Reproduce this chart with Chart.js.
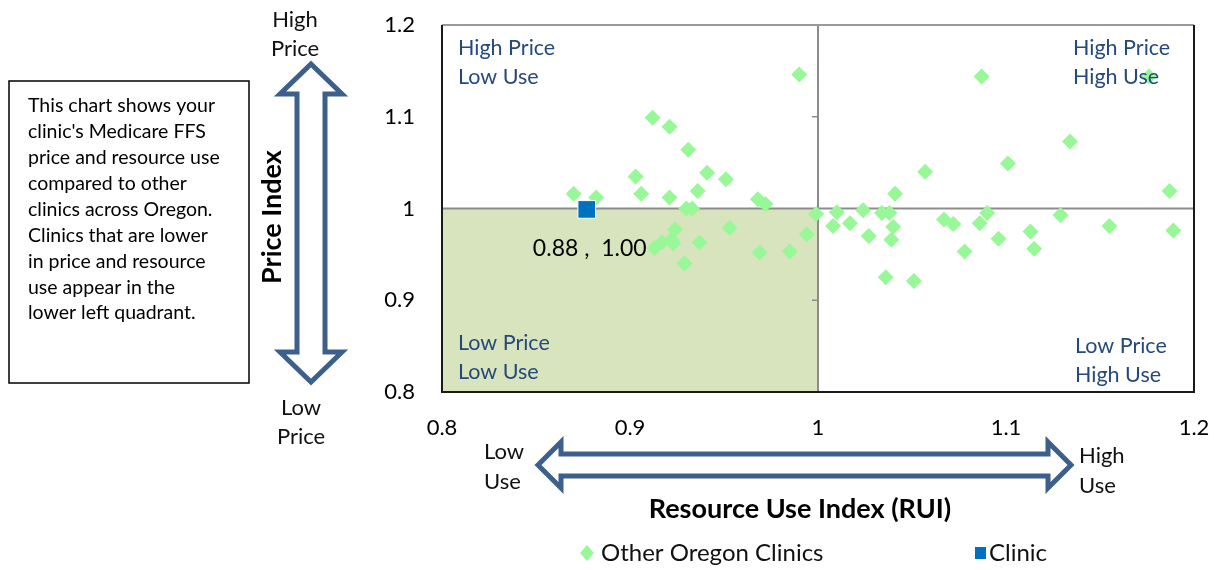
<!DOCTYPE html>
<html>
<head>
<meta charset="utf-8">
<script src="https://cdn.jsdelivr.net/npm/chart.js@4.4.1/dist/chart.umd.min.js"></script>
<style>
  html, body { margin: 0; padding: 0; background: #ffffff; }
  #wrap { position: relative; width: 1217px; height: 570px; }
  canvas { display: block; }
</style>
</head>
<body>
<div id="wrap"><canvas id="c" width="1217" height="570"></canvas></div>
<script>
// ---- Data ----
const seriesNames = ['Other Oregon Clinics', 'Clinic'];
const othersRUI = [0.990, 0.912, 0.921, 0.931, 0.903, 0.941, 0.951, 0.870, 0.882, 0.906,
  0.921, 0.936, 0.968, 0.972, 0.930, 0.933, 0.999, 0.924, 0.953, 0.994,
  0.922, 0.923, 0.917, 0.913, 0.937, 0.969, 0.985, 0.929,
  1.087, 1.176, 1.134, 1.101, 1.057, 1.041, 1.187, 1.010, 1.024, 1.034,
  1.038, 1.008, 1.017, 1.040, 1.027, 1.039, 1.067, 1.072, 1.086, 1.090,
  1.078, 1.096, 1.113, 1.115, 1.129, 1.155, 1.189, 1.036, 1.051];
const othersPrice = [1.146, 1.099, 1.089, 1.064, 1.035, 1.039, 1.032, 1.016, 1.012, 1.016,
  1.012, 1.019, 1.010, 1.005, 1.000, 1.000, 0.994, 0.977, 0.979, 0.972,
  0.966, 0.962, 0.963, 0.957, 0.963, 0.952, 0.953, 0.940,
  1.144, 1.144, 1.073, 1.049, 1.040, 1.016, 1.019, 0.996, 0.998, 0.995,
  0.995, 0.981, 0.984, 0.980, 0.970, 0.966, 0.988, 0.983, 0.984, 0.995,
  0.953, 0.967, 0.975, 0.956, 0.993, 0.981, 0.976, 0.925, 0.921];
const clinicRUI = [0.877];
const clinicPrice = [0.999];
const clinicLabel = '0.88 ,  1.00';
const xTickLabels = ['0.8', '0.9', '1', '1.1', '1.2'];
const yTickLabels = ['0.8', '0.9', '1', '1.1', '1.2'];
const quadrantLabels = [
  ['High Price', 'Low Use'],
  ['High Price', 'High Use'],
  ['Low Price', 'Low Use'],
  ['Low Price', 'High Use']
];
const noteLines = ["This chart shows your", "clinic's Medicare FFS", "price and resource use",
  "compared to other", "clinics across Oregon.", "Clinics that are lower",
  "in price and resource", "use appear in the", "lower left quadrant."];
const xTitle = 'Resource Use Index (RUI)';
const yTitle = 'Price Index';
const xEndLabels = [['Low', 'Use'], ['High', 'Use']];
const yEndLabels = [['High', 'Price'], ['Low', 'Price']];

// ---- Styles ----
const FONT = 'Lato, "Open Sans", sans-serif';
const GREEN = '#98f898';
const BLUE = '#0070c0';
const NAVY = '#24497a';
const ARROW = '#3d5f8c';
const SHADE = '#d7e4bd';

function toPts(xs, ys) { return xs.map((x, i) => ({ x: x, y: ys[i] })); }

function hollowArrowV(ctx, cx, yTop, yBot, headHalf, headLen, shaftHalf) {
  ctx.beginPath();
  ctx.moveTo(cx, yTop);
  ctx.lineTo(cx + headHalf, yTop + headLen);
  ctx.lineTo(cx + shaftHalf, yTop + headLen);
  ctx.lineTo(cx + shaftHalf, yBot - headLen);
  ctx.lineTo(cx + headHalf, yBot - headLen);
  ctx.lineTo(cx, yBot);
  ctx.lineTo(cx - headHalf, yBot - headLen);
  ctx.lineTo(cx - shaftHalf, yBot - headLen);
  ctx.lineTo(cx - shaftHalf, yTop + headLen);
  ctx.lineTo(cx - headHalf, yTop + headLen);
  ctx.closePath();
  ctx.fillStyle = '#ffffff';
  ctx.fill();
  ctx.strokeStyle = ARROW;
  ctx.lineWidth = 5;
  ctx.lineJoin = 'miter';
  ctx.stroke();
}
function hollowArrowH(ctx, cy, xL, xR, headHalf, headLen, shaftHalf) {
  ctx.beginPath();
  ctx.moveTo(xL, cy);
  ctx.lineTo(xL + headLen, cy - headHalf);
  ctx.lineTo(xL + headLen, cy - shaftHalf);
  ctx.lineTo(xR - headLen, cy - shaftHalf);
  ctx.lineTo(xR - headLen, cy - headHalf);
  ctx.lineTo(xR, cy);
  ctx.lineTo(xR - headLen, cy + headHalf);
  ctx.lineTo(xR - headLen, cy + shaftHalf);
  ctx.lineTo(xL + headLen, cy + shaftHalf);
  ctx.lineTo(xL + headLen, cy + headHalf);
  ctx.closePath();
  ctx.fillStyle = '#ffffff';
  ctx.fill();
  ctx.strokeStyle = ARROW;
  ctx.lineWidth = 5;
  ctx.lineJoin = 'miter';
  ctx.stroke();
}

const decor = {
  id: 'decor',
  beforeDatasetsDraw(chart) {
    const { ctx, chartArea: a, scales: { x, y } } = chart;
    const x1 = x.getPixelForValue(1.0);
    const y1 = y.getPixelForValue(1.0);
    ctx.save();
    ctx.fillStyle = SHADE;
    ctx.fillRect(a.left, y1, x1 - a.left, a.bottom - y1);
    ctx.strokeStyle = '#8c8c8c';
    ctx.lineWidth = 2;
    ctx.beginPath();
    ctx.moveTo(a.left, y1); ctx.lineTo(a.right, y1);
    ctx.moveTo(x1, a.top); ctx.lineTo(x1, a.bottom);
    ctx.stroke();
    ctx.lineWidth = 1.5;
    ctx.beginPath();
    [0.9, 1.1].forEach(v => {
      const py = y.getPixelForValue(v);
      ctx.moveTo(x1 - 6, py); ctx.lineTo(x1, py);
    });
    ctx.stroke();
    ctx.strokeStyle = '#9a9a9a';
    ctx.lineWidth = 2;
    ctx.beginPath();
    ctx.moveTo(a.left, a.top); ctx.lineTo(a.right, a.top);
    ctx.stroke();
    ctx.strokeStyle = '#1a1a1a';
    ctx.beginPath();
    ctx.moveTo(a.left, a.top); ctx.lineTo(a.left, a.bottom);
    ctx.lineTo(a.right, a.bottom); ctx.lineTo(a.right, a.top);
    ctx.stroke();
    ctx.restore();
  },
  afterDatasetsDraw(chart) {
    const { ctx, chartArea: a, scales: { x, y } } = chart;
    ctx.save();
    ctx.textBaseline = 'middle';
    ctx.font = '21.5px ' + FONT;
    ctx.fillStyle = NAVY;
    ctx.textAlign = 'left';
    const ql = [
      { lines: quadrantLabels[0], x: a.left + 16, y: a.top + 23 },
      { lines: quadrantLabels[1], x: a.right - 121, y: a.top + 23 },
      { lines: quadrantLabels[2], x: a.left + 16, y: a.bottom - 49 },
      { lines: quadrantLabels[3], x: a.right - 119, y: a.bottom - 46 }
    ];
    ql.forEach(q => q.lines.forEach((t, i) => ctx.fillText(t, q.x, q.y + i * 29)));
    ctx.fillStyle = '#000000';
    ctx.textAlign = 'center';
    ctx.font = '23px ' + FONT;
    const cpx = x.getPixelForValue(clinicRUI[0]);
    const cpy = y.getPixelForValue(clinicPrice[0]);
    ctx.fillText(clinicLabel, cpx + 3, cpy + 39);
    ctx.restore();
  },
  afterDraw(chart) {
    const { ctx } = chart;
    ctx.save();
    ctx.strokeStyle = '#000000';
    ctx.lineWidth = 1.5;
    ctx.strokeRect(9, 81, 240, 302);
    ctx.fillStyle = '#000000';
    ctx.font = '19.5px ' + FONT;
    ctx.textAlign = 'left';
    ctx.textBaseline = 'middle';
    noteLines.forEach((t, i) => ctx.fillText(t, 28, 106 + i * 25.9));
    hollowArrowV(ctx, 311, 64, 382, 31, 30, 14);
    hollowArrowH(ctx, 465, 538, 1071, 23, 23, 11);
    ctx.font = '22px ' + FONT;
    ctx.textAlign = 'center';
    ctx.fillStyle = '#111111';
    yEndLabels[0].forEach((t, i) => ctx.fillText(t, 295, 20 + i * 28.5));
    yEndLabels[1].forEach((t, i) => ctx.fillText(t, 301, 408 + i * 29));
    ctx.textAlign = 'left';
    xEndLabels[0].forEach((t, i) => ctx.fillText(t, 484, 452 + i * 30));
    xEndLabels[1].forEach((t, i) => ctx.fillText(t, 1079, 456 + i * 30));
    ctx.font = 'bold 27px ' + FONT;
    ctx.textAlign = 'center';
    ctx.fillStyle = '#000000';
    ctx.fillText(xTitle, 800, 509);
    ctx.save();
    ctx.translate(272, 217);
    ctx.rotate(-Math.PI / 2);
    ctx.fillText(yTitle, 0, 0);
    ctx.restore();
    ctx.font = '24px ' + FONT;
    ctx.textAlign = 'left';
    const ds = chart.data.datasets;
    const ly = 553;
    ctx.fillStyle = ds[0].backgroundColor;
    ctx.beginPath();
    ctx.moveTo(587, ly - 8); ctx.lineTo(594, ly); ctx.lineTo(587, ly + 8); ctx.lineTo(580, ly);
    ctx.closePath(); ctx.fill();
    ctx.fillStyle = '#111111';
    ctx.fillText(ds[0].label, 601, ly);
    ctx.fillStyle = ds[1].backgroundColor;
    ctx.fillRect(975, ly - 6, 11, 12);
    ctx.fillStyle = '#111111';
    ctx.fillText(ds[1].label, 989, ly);
    ctx.restore();
  }
};

function noOverflow(s) {
  s.paddingTop = 0; s.paddingBottom = 0; s.paddingLeft = 0; s.paddingRight = 0;
}

new Chart(document.getElementById('c'), {
  type: 'scatter',
  data: {
    datasets: [
      {
        label: seriesNames[0],
        data: toPts(othersRUI, othersPrice),
        pointStyle: 'rectRot',
        pointRadius: 8,
        pointHoverRadius: 8,
        backgroundColor: GREEN,
        borderColor: GREEN,
        borderWidth: 0,
        order: 2
      },
      {
        label: seriesNames[1],
        data: toPts(clinicRUI, clinicPrice),
        pointStyle: 'rect',
        pointRadius: 12.5,
        pointHoverRadius: 12.5,
        backgroundColor: BLUE,
        borderColor: '#ffffff',
        borderWidth: 1,
        order: 1
      }
    ]
  },
  options: {
    responsive: false,
    animation: false,
    events: [],
    layout: { padding: { left: 382, right: 23, top: 25, bottom: 118 } },
    plugins: { legend: { display: false }, tooltip: { enabled: false } },
    scales: {
      x: {
        type: 'linear',
        min: 0.8, max: 1.2,
        grid: { display: false, drawTicks: false },
        border: { display: false },
        afterFit(s) { s.height = 60; noOverflow(s); },
        afterBuildTicks(s) { s.ticks = xTickLabels.map(t => ({ value: parseFloat(t) })); },
        ticks: {
          padding: 23,
          color: '#000000',
          font: { family: FONT, size: 22 },
          callback: (v, i) => xTickLabels[i]
        }
      },
      y: {
        type: 'linear',
        min: 0.8, max: 1.2,
        grid: { display: false, drawTicks: false },
        border: { display: false },
        afterFit(s) { s.width = 60; noOverflow(s); },
        afterBuildTicks(s) { s.ticks = yTickLabels.map(t => ({ value: parseFloat(t) })); },
        ticks: {
          padding: 27,
          color: '#000000',
          font: { family: FONT, size: 22 },
          callback: (v, i) => yTickLabels[i]
        }
      }
    }
  },
  plugins: [decor]
});
</script>
</body>
</html>
